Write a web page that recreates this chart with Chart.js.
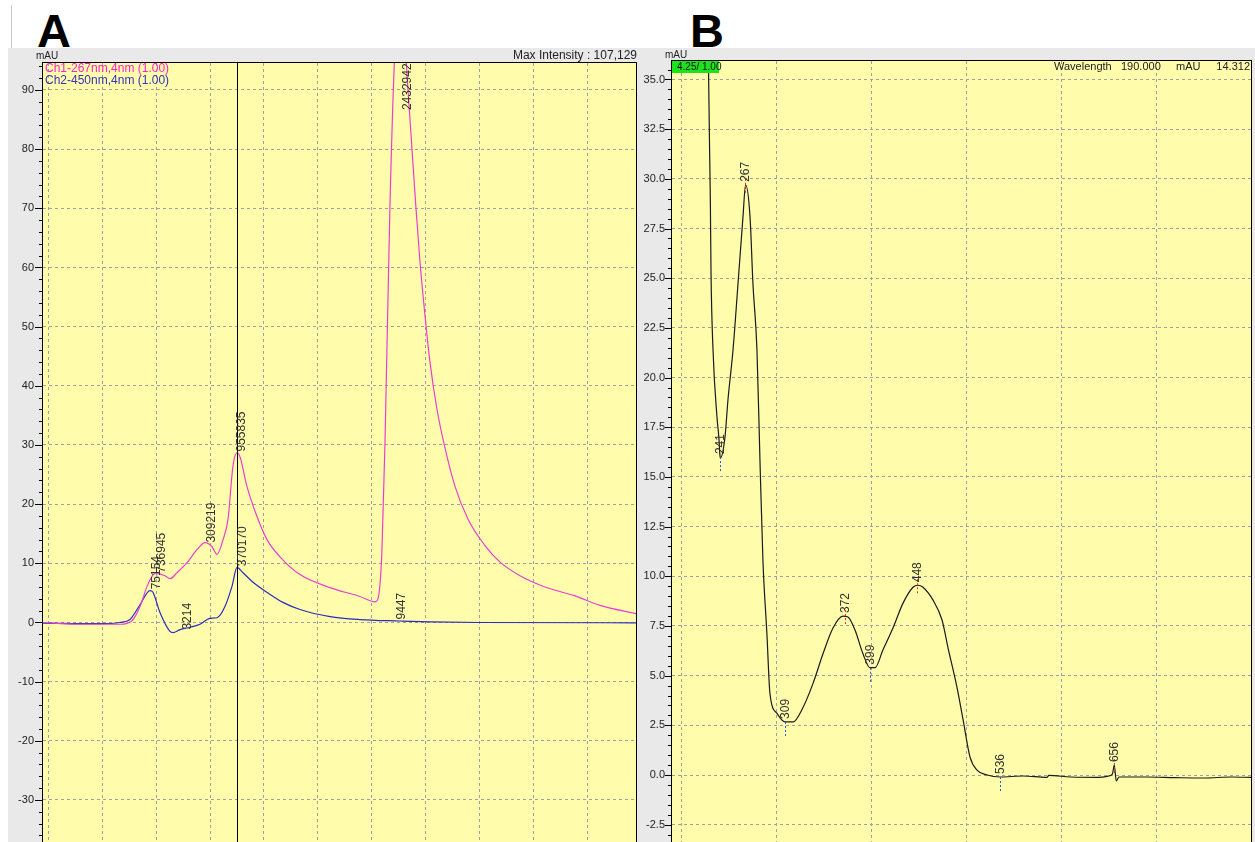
<!DOCTYPE html>
<html>
<head>
<meta charset="utf-8">
<title>Chromatogram and UV spectrum</title>
<script src="https://cdn.jsdelivr.net/npm/chart.js@4.4.0/dist/chart.umd.min.js"></script>
<style>
  html, body { margin: 0; padding: 0; background: #fff; }
  #page { position: relative; width: 1255px; height: 842px; overflow: hidden; }
  .edge { position: absolute; left: 11px; top: 5px; width: 1px; height: 43px; background: #c8c8c8; }
  .letter { position: absolute; top: 7px; font: bold 47px/47px 'Liberation Sans', Arial, sans-serif; color: #000; }
  canvas { position: absolute; top: 48px; }
</style>
</head>
<body>
<div id="page">
  <div class="edge"></div>
  <div class="letter" style="left: 37px;">A</div>
  <div class="letter" style="left: 690px;">B</div>
  <canvas id="chromChart" width="632" height="794" style="left: 8px;"></canvas>
  <canvas id="spectrumChart" width="615" height="794" style="left: 640px;"></canvas>
</div>
<script>
// ---- Panel A: chromatogram (retention time in min, mAU) ----
const ch1Time = [2.45, 2.747, 3.164, 3.276, 3.350, 3.415, 3.461, 3.489, 3.582, 3.628,
                 3.693, 3.786, 3.878, 3.953, 4.018, 4.064, 4.120, 4.166, 4.212, 4.250,
                 4.277, 4.342, 4.435, 4.528, 4.648, 4.834, 5.112, 5.390, 5.529, 5.557,
                 5.594, 5.622, 5.668, 5.715, 5.761, 5.800, 5.836, 5.873, 5.910, 5.947,
                 5.993, 6.040, 6.105, 6.179, 6.272, 6.392, 6.550, 6.690, 6.875, 7.107,
                 7.385, 7.618, 7.952];
const ch1Abs = [0.0, -0.3, -0.3, 0.3, 2.7, 6.1, 7.8, 8.3, 7.9, 7.4,
                8.4, 10.1, 12.3, 13.5, 12.8, 11.5, 14.0, 17.4, 26.4, 28.7,
                28.0, 23.0, 17.9, 14.0, 11.1, 8.1, 5.9, 4.4, 3.5, 4.0,
                12, 30, 70, 97, 107, 100, 90, 80, 70, 61,
                52, 44, 36, 29.5, 23, 17.5, 13, 10.2, 7.9, 6.0,
                4.5, 2.9, 1.5];

const ch2Time = [2.45, 2.979, 3.164, 3.257, 3.350, 3.442, 3.470, 3.535, 3.628, 3.656,
                 3.721, 3.814, 3.907, 3.999, 4.064, 4.138, 4.203, 4.250, 4.305, 4.398,
                 4.528, 4.676, 4.834, 5.112, 5.390, 5.761, 6.040, 6.504, 7.952];
const ch2Abs = [-0.1, -0.2, 0.0, 0.5, 3.0, 5.4, 5.1, 1.7, -1.5, -1.7,
                -1.2, -0.8, -0.3, 0.7, 0.8, 2.7, 6.1, 9.3, 8.4, 6.8,
                5.1, 3.4, 2.2, 1.0, 0.5, 0.25, 0.1, 0.0, -0.05];

// peak annotations (text starts at this point and runs upward)
const peakTextA = ['75154', '736945', '3214', '309219', '955835', '370170', '9447', '2432942'];
const peakTimeA = [3.508, 3.554, 3.795, 4.018, 4.296, 4.305, 5.780, 5.830];
const peakAbsA = [5.6, 8.4, -1.2, 13.5, 28.9, 9.5, 0.5, 86.6];

const gridTimeA = [2.5, 3.0, 3.5, 4.0, 4.5, 5.0, 5.5, 6.0, 6.5, 7.0, 7.5];
const yTicksA = [90, 80, 70, 60, 50, 40, 30, 20, 10, 0, -10, -20, -30];
const cursorTimeA = 4.25;

// ---- Panel B: UV spectrum at 4.25 min (nm, mAU) ----
const specNm = [227.8, 229.6, 230.4, 231.1, 233.2, 237.4, 239.5, 240.3, 241.0, 245.8,
                249.0, 254.3, 259.5, 264.8, 267.5, 272.2, 275.3, 279.5, 282.7, 285.8,
                290.0, 293.2, 300.6, 309.0, 317.5, 328.0, 338.5, 349.1, 359.6, 370.1,
                375.4, 382.8, 391.2, 398.6, 403.9, 412.3, 422.8, 433.4, 443.9, 449.2,
                454.4, 465.0, 474.5, 480.8, 490.3, 496.6, 504.0, 511.3, 521.9, 536.0,
                560, 585, 587, 610, 640, 650, 654, 656, 658, 661,
                690, 720, 750, 780, 800];
const specAbs = [38, 31.5, 28.9, 25.3, 21.4, 18.0, 16.9, 16.2, 15.95, 17.0,
                 18.9, 21.4, 24.7, 28.1, 29.7, 28.1, 24.7, 21.4, 15.8, 10.8,
                 7.1, 4.1, 3.1, 2.67, 2.67, 3.4, 4.6, 6.1, 7.4, 8.0,
                 7.95, 7.3, 6.1, 5.4, 5.4, 6.3, 7.4, 8.65, 9.45, 9.55,
                 9.45, 8.8, 7.8, 6.4, 4.4, 2.8, 0.9, 0.25, 0.0, -0.1,
                 -0.05, -0.12, -0.02, -0.1, -0.12, -0.05, 0.05, 0.5, -0.3, -0.1,
                 -0.1, -0.13, -0.15, -0.1, -0.12];

const peakNmB = [241, 267, 309, 372, 399, 448, 536, 656];
const peakAbsB = [16.0, 29.7, 2.67, 8.0, 5.4, 9.55, -0.1, 0.5];
const peakKindB = ['min', 'max', 'min', 'max', 'min', 'max', 'min', 'max'];

const gridNmB = [200, 300, 400, 500, 600, 700, 800];
const yTicksB = [35.0, 32.5, 30.0, 27.5, 25.0, 22.5, 20.0, 17.5, 15.0, 12.5, 10.0, 7.5, 5.0, 2.5, 0.0, -2.5];

const FONT = "'Liberation Sans', Arial, sans-serif";
const PLOT_BG = '#fffdab';
const PANEL_BG = '#e9e9e9';
const GRID = '#a0a0a0';

function toPoints(xs, ys) {
    return xs.map((x, i) => ({ x: x, y: ys[i] }));
}

function fillBackground(chart) {
    const { ctx, chartArea: a } = chart;
    ctx.save();
    ctx.fillStyle = PANEL_BG;
    ctx.fillRect(0, 0, chart.width, chart.height);
    ctx.fillStyle = PLOT_BG;
    ctx.fillRect(a.left, a.top, a.right - a.left, a.bottom - a.top);
    ctx.restore();
}

function drawFrame(chart) {
    const { ctx, chartArea: a } = chart;
    ctx.save();
    ctx.strokeStyle = '#000';
    ctx.lineWidth = 1;
    ctx.strokeRect(a.left - 0.5, a.top - 0.5, a.right - a.left + 1, a.bottom - a.top + 1);
    ctx.restore();
}

// small tick marks on the left axis, long on labelled values
function drawTickMarks(chart, step, majorStep, majorLen, minorLen) {
    const { ctx, chartArea: a } = chart;
    const y = chart.scales.y;
    ctx.save();
    ctx.strokeStyle = '#000';
    ctx.lineWidth = 1;
    ctx.beginPath();
    for (let i = Math.ceil(y.min / step); i * step <= y.max; i++) {
        const v = i * step;
        const r = v / majorStep;
        const major = Math.abs(r - Math.round(r)) < 1e-6;
        const py = Math.round(y.getPixelForValue(v)) + 0.5;
        ctx.moveTo(a.left - (major ? majorLen : minorLen), py);
        ctx.lineTo(a.left, py);
    }
    ctx.stroke();
    ctx.restore();
}

function drawCursor(chart, value) {
    const { ctx, chartArea: a } = chart;
    const px = Math.round(chart.scales.x.getPixelForValue(value)) + 0.5;
    ctx.save();
    ctx.strokeStyle = '#000';
    ctx.lineWidth = 1;
    ctx.beginPath();
    ctx.moveTo(px, a.top);
    ctx.lineTo(px, a.bottom);
    ctx.stroke();
    ctx.restore();
}

function verticalText(ctx, text, x, y, color, size) {
    ctx.save();
    ctx.translate(x, y);
    ctx.rotate(-Math.PI / 2);
    ctx.font = size + 'px ' + FONT;
    ctx.fillStyle = color;
    ctx.textAlign = 'left';
    ctx.textBaseline = 'middle';
    ctx.fillText(text, 0, 0);
    ctx.restore();
}

function text(ctx, str, x, y, color, size, align) {
    ctx.font = size + 'px ' + FONT;
    ctx.fillStyle = color;
    ctx.textAlign = align || 'left';
    ctx.textBaseline = 'middle';
    ctx.fillText(str, x, y);
}

const overlayA = {
    id: 'overlayA',
    beforeDraw: fillBackground,
    afterDatasetsDraw(chart) {
        const ctx = chart.ctx;
        drawCursor(chart, cursorTimeA);
        peakTextA.forEach((t, i) => {
            const px = chart.scales.x.getPixelForValue(peakTimeA[i]);
            const py = chart.scales.y.getPixelForValue(peakAbsA[i]);
            verticalText(ctx, t, px, py, '#333', 12);
        });
    },
    afterDraw(chart) {
        const ctx = chart.ctx;
        drawFrame(chart);
        drawTickMarks(chart, 2, 10, 8, 4);
        ctx.save();
        text(ctx, 'mAU', 28, 8, '#222', 10);
        text(ctx, 'Max Intensity : 107,129', 629, 8, '#222', 12, 'right');
        text(ctx, 'Ch1-267nm,4nm (1.00)', 37, 21, '#ff22cc', 12);
        text(ctx, 'Ch2-450nm,4nm (1.00)', 37, 33, '#3333bb', 12);
        ctx.restore();
    }
};

const overlayB = {
    id: 'overlayB',
    beforeDraw: fillBackground,
    afterDatasetsDraw(chart) {
        const ctx = chart.ctx;
        peakNmB.forEach((nm, i) => {
            const px = Math.round(chart.scales.x.getPixelForValue(nm)) + 0.5;
            const py = chart.scales.y.getPixelForValue(peakAbsB[i]);
            ctx.save();
            ctx.lineWidth = 1;
            ctx.setLineDash([2, 2]);
            ctx.beginPath();
            if (peakKindB[i] === 'max') {
                ctx.strokeStyle = '#e03030';
                ctx.moveTo(px, py - 6);
                ctx.lineTo(px, py + 8);
            } else {
                ctx.strokeStyle = '#3050e0';
                ctx.moveTo(px, py);
                ctx.lineTo(px, py + 15);
            }
            ctx.stroke();
            ctx.restore();
            verticalText(ctx, String(nm), px, py - 3, '#333', 12);
        });
    },
    afterDraw(chart) {
        const ctx = chart.ctx;
        const a = chart.chartArea;
        drawFrame(chart);
        drawTickMarks(chart, 0.5, 2.5, 7, 4);
        ctx.save();
        text(ctx, 'mAU', 25, 7, '#222', 10);
        ctx.fillStyle = '#1ee21e';
        ctx.fillRect(a.left, a.top, 47, 12);
        text(ctx, '4.25/ 1.00', a.left + 5, a.top + 6.5, '#111', 10);
        text(ctx, 'Wavelength', 414, 19, '#222', 11);
        text(ctx, '190.000', 481, 19, '#222', 11);
        text(ctx, 'mAU', 536, 19, '#222', 11);
        text(ctx, '14.312', 610, 19, '#222', 11, 'right');
        ctx.restore();
    }
};

function baseScales(xMin, xMax, xGrid, yMin, yMax, yTicks, yWidth, yPad, decimals) {
    return {
        x: {
            type: 'linear',
            min: xMin,
            max: xMax,
            afterBuildTicks: axis => { axis.ticks = xGrid.map(v => ({ value: v })); },
            afterFit: s => { s.height = 0; s.paddingLeft = 0; s.paddingRight = 0; },
            ticks: { display: false },
            grid: { color: GRID, lineWidth: 1, drawTicks: false },
            border: { display: false, dash: [3, 3] }
        },
        y: {
            type: 'linear',
            min: yMin,
            max: yMax,
            afterBuildTicks: axis => { axis.ticks = yTicks.map(v => ({ value: v })); },
            afterFit: s => { s.width = yWidth; s.paddingTop = 0; s.paddingBottom = 0; },
            ticks: {
                padding: yPad,
                color: '#222',
                font: { family: FONT, size: 11 },
                callback: v => Number(v).toFixed(decimals)
            },
            grid: { color: GRID, lineWidth: 1, drawTicks: false },
            border: { display: false, dash: [3, 3] }
        }
    };
}

const commonOptions = {
    responsive: false,
    animation: false,
    devicePixelRatio: 1,
    events: [],
    plugins: { legend: { display: false }, tooltip: { enabled: false } }
};

new Chart(document.getElementById('chromChart'), {
    type: 'line',
    data: {
        datasets: [{
            label: 'Ch1-267nm,4nm',
            data: toPoints(ch1Time, ch1Abs),
            borderColor: '#e83fd2',
            borderWidth: 1.2,
            pointRadius: 0,
            cubicInterpolationMode: 'monotone'
        }, {
            label: 'Ch2-450nm,4nm',
            data: toPoints(ch2Time, ch2Abs),
            borderColor: '#2b2bbf',
            borderWidth: 1.2,
            pointRadius: 0,
            cubicInterpolationMode: 'monotone'
        }]
    },
    options: Object.assign({}, commonOptions, {
        layout: { padding: { top: 15, right: 4, bottom: 0, left: 0 } },
        scales: baseScales(2.45, 7.951, gridTimeA, -37.1, 94.56, yTicksA, 35, 9, 0)
    }),
    plugins: [overlayA]
});

new Chart(document.getElementById('spectrumChart'), {
    type: 'line',
    data: {
        datasets: [{
            label: 'Spectrum',
            data: toPoints(specNm, specAbs),
            borderColor: '#1a1a1a',
            borderWidth: 1.2,
            pointRadius: 0,
            cubicInterpolationMode: 'monotone'
        }]
    },
    options: Object.assign({}, commonOptions, {
        layout: { padding: { top: 13, right: 4, bottom: 0, left: 0 } },
        scales: baseScales(190, 800, gridNmB, -3.37, 35.93, yTicksB, 32, 7, 1)
    }),
    plugins: [overlayB]
});
</script>
</body>
</html>
